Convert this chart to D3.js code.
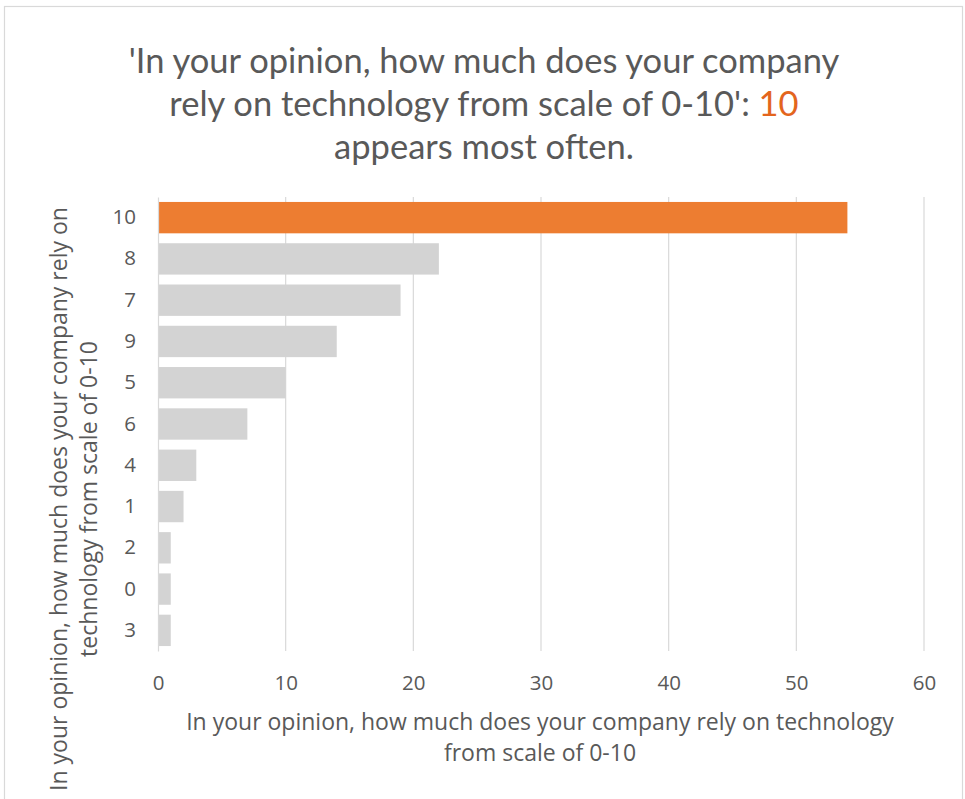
<!DOCTYPE html>
<html>
<head>
<meta charset="utf-8">
<script src="https://cdn.jsdelivr.net/npm/d3@7"></script>
<style>
  html, body { margin: 0; padding: 0; background: #fff; }
  svg { display: block; }
  text { font-family: "Open Sans", "Noto Sans", sans-serif; fill: #595959; }
</style>
</head>
<body>
<svg id="chart" width="965" height="799"></svg>
<script>
// Answers to the reliance-on-technology question, sorted by frequency
const categories = ["10", "8", "7", "9", "5", "6", "4", "1", "2", "0", "3"];
const counts     = [54, 22, 19, 14, 10, 7, 3, 2, 1, 1, 1];
const xTicks     = [0, 10, 20, 30, 40, 50, 60];
const highlight  = "10";

const titleLines = [
  ["'In your opinion, how much does your company"],
  ["rely on technology from scale of 0-10': ", "10"],
  ["appears most often."]
];
const xTitleLines = ["In your opinion, how much does your company rely on technology", "from scale of 0-10"];
const yTitleLines = ["In your opinion, how much does your company rely on", "technology from scale of 0-10"];

const data = categories.map((c, i) => ({ cat: c, value: counts[i] }));

const svg = d3.select("#chart");
const W = 965, H = 799;
const plot = { left: 158, right: 924, top: 197, bottom: 651 };

// chart frame
svg.append("rect")
  .attr("x", 4.5).attr("y", 6.5)
  .attr("width", 958).attr("height", H)
  .attr("fill", "#fff").attr("stroke", "#d9d9d9").attr("stroke-width", 1.2);

const x = d3.scaleLinear().domain([0, 60]).range([plot.left, plot.right]);
const y = d3.scaleBand().domain(categories)
  .range([plot.top, plot.bottom]).paddingInner(0.24).paddingOuter(0.12);

// vertical gridlines
svg.append("g")
  .selectAll("line")
  .data(xTicks.filter(t => t > 0))
  .join("line")
  .attr("x1", d => x(d)).attr("x2", d => x(d))
  .attr("y1", plot.top).attr("y2", plot.bottom)
  .attr("stroke", "#d9d9d9").attr("stroke-width", 1.2);

// bars
svg.append("g")
  .selectAll("rect")
  .data(data)
  .join("rect")
  .attr("x", x(0))
  .attr("y", d => y(d.cat))
  .attr("width", d => x(d.value) - x(0))
  .attr("height", y.bandwidth())
  .attr("fill", d => d.cat === highlight ? "#ED7D31" : "#D3D3D3");

// category axis
const yAxis = svg.append("g")
  .attr("transform", `translate(${plot.left},0)`)
  .call(d3.axisLeft(y).tickSize(0).tickPadding(22));
yAxis.select(".domain").attr("stroke", "#d9d9d9").attr("stroke-width", 1.2);
yAxis.selectAll("text")
  .style("font-size", "20.5px").attr("fill", "#595959")
  .style("font-family", "'Open Sans', sans-serif");

// value axis
const xAxis = svg.append("g")
  .attr("transform", `translate(0,${plot.bottom})`)
  .call(d3.axisBottom(x).tickValues(xTicks).tickSize(0).tickPadding(24));
xAxis.select(".domain").remove();
xAxis.selectAll("text")
  .style("font-size", "20.5px").attr("fill", "#595959")
  .style("font-family", "'Open Sans', sans-serif");

// x axis title
svg.append("text")
  .attr("text-anchor", "middle")
  .style("font-size", "23px")
  .selectAll("tspan")
  .data(xTitleLines)
  .join("tspan")
  .attr("x", 540)
  .attr("y", (d, i) => 730 + i * 31)
  .text(d => d);

// y axis title
svg.append("text")
  .attr("text-anchor", "middle")
  .attr("transform", "translate(0,499) rotate(-90)")
  .style("font-size", "23px")
  .selectAll("tspan")
  .data(yTitleLines)
  .join("tspan")
  .attr("x", 0)
  .attr("y", (d, i) => 67 + i * 30)
  .text(d => d);

// chart title
const title = svg.append("text")
  .attr("text-anchor", "middle")
  .style("font-family", "Lato, 'Open Sans', sans-serif")
  .style("font-weight", 400)
  .style("font-size", "34.5px");
titleLines.forEach((parts, i) => {
  parts.forEach((p, j) => {
    const t = title.append("tspan").text(p)
      .attr("fill", p === highlight ? "#E3651D" : "#595959")
      .style("fill", p === highlight ? "#E3651D" : "#595959");
    if (j === 0) t.attr("x", 484).attr("y", 73 + i * 43);
  });
});
</script>
</body>
</html>
